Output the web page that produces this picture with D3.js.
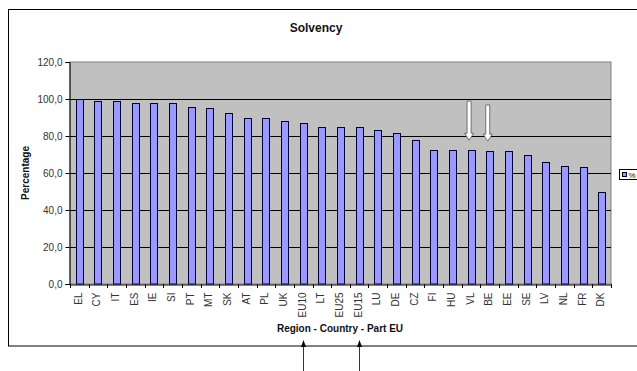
<!DOCTYPE html>
<html><head><meta charset="utf-8">
<script src="https://cdn.jsdelivr.net/npm/d3@7"></script>
<style>body{margin:0;background:#fff}svg{display:block}text{font-family:Arial,"Liberation Sans",sans-serif}</style>
</head><body><svg id="c" width="637" height="371"></svg>
<script>
const categories = ["EL","CY","IT","ES","IE","SI","PT","MT","SK","AT","PL","UK","EU10","LT","EU25","EU15","LU","DE","CZ","FI","HU","VL","BE","EE","SE","LV","NL","FR","DK"];
const values = [100,99,99,98,98,98,95.5,95,92.6,89.8,89.8,88,87,85,85,85,83,81.5,77.8,72.6,72.6,72.3,71.8,71.8,69.8,65.8,63.6,63,50];
const yTicks = [0,20,40,60,80,100,120];
const seriesName = "%";
const downArrows = ["VL","BE"];
const upArrows = ["EU10","EU15"];

const svg = d3.select("#c");
const m = {l:70, t:62, r:611, b:284};
const xb = d3.scaleBand().domain(categories).range([m.l, m.r]);
const y = d3.scaleLinear().domain([0,120]).range([m.b, m.t]);
const fmt = v => d3.format(".1f")(v).replace(".", ",");

// outer chart border
svg.append("rect").attr("x",8.5).attr("y",9.5).attr("width",640).attr("height",336.5)
  .attr("fill","#fff").attr("stroke","#000").attr("stroke-width",1);

// plot area
svg.append("rect").attr("x",m.l).attr("y",m.t).attr("width",m.r-m.l).attr("height",m.b-m.t)
  .attr("fill","#c0c0c0").attr("stroke","#808080");

// gridlines
svg.append("g").selectAll("line").data(yTicks.filter(d=>d>0 && d<120)).join("line")
  .attr("x1",m.l).attr("x2",m.r).attr("y1",d=>Math.round(y(d))+0.5).attr("y2",d=>Math.round(y(d))+0.5)
  .attr("stroke","#000").attr("stroke-width",1);

// bars
svg.append("g").selectAll("rect").data(values).join("rect")
  .attr("x",(d,i)=>Math.round(xb(categories[i])+xb.bandwidth()/2-3.5)+0.5)
  .attr("y",d=>Math.round(y(d))+0.5)
  .attr("width",7)
  .attr("height",d=>m.b-Math.round(y(d))-0.5)
  .attr("fill","#9999ff").attr("stroke","#000033").attr("stroke-width",1);

// y axis
const ya = svg.append("g").attr("transform",`translate(${m.l-0.5},0)`)
  .call(d3.axisLeft(y).tickValues(yTicks).tickFormat(fmt).tickSize(4).tickPadding(3));
ya.select(".domain").attr("stroke","#000");
ya.selectAll("line").attr("stroke","#000");
ya.selectAll("text").attr("font-size","10px").attr("fill","#333").attr("font-family","Arial,'Liberation Sans',sans-serif");

// x axis
const xa = svg.append("g").attr("transform",`translate(0,${m.b+0.5})`)
  .call(d3.axisBottom(xb).tickSize(0).tickPadding(0));
xa.select(".domain").attr("stroke","#000");
xa.selectAll(".tick text").attr("font-size","10px").attr("fill","#333")
  .attr("font-family","Arial,'Liberation Sans',sans-serif")
  .attr("transform","translate(-5,8) rotate(-90)").attr("text-anchor","end").attr("dy","0.75em").attr("x",0).attr("y",0);
svg.append("g").selectAll("line").data(categories.concat(["_end"])).join("line")
  .attr("x1",(d,i)=>Math.round(m.l+i*xb.step())+0.5).attr("x2",(d,i)=>Math.round(m.l+i*xb.step())+0.5)
  .attr("y1",m.b).attr("y2",m.b+4).attr("stroke","#000");

// titles
svg.append("text").attr("x",316).attr("y",32).attr("text-anchor","middle")
  .attr("font-size","12px").attr("font-weight","bold").attr("fill","#111").text("Solvency");
svg.append("text").attr("transform","translate(29,173) rotate(-90)").attr("text-anchor","middle")
  .attr("font-size","10px").attr("font-weight","bold").attr("fill","#111").text("Percentage");
svg.append("text").attr("x",340).attr("y",332).attr("text-anchor","middle")
  .attr("font-size","10px").attr("font-weight","bold").attr("fill","#111").text("Region - Country - Part EU");

// legend
const lg = svg.append("g");
lg.append("rect").attr("x",619.5).attr("y",169.5).attr("width",30).attr("height",10).attr("fill","#fff").attr("stroke","#000");
lg.append("rect").attr("x",622.5).attr("y",172.5).attr("width",4).attr("height",4).attr("fill","#9999ff").attr("stroke","#000033");
lg.append("text").attr("x",628.5).attr("y",177.5).attr("font-size","8px").attr("fill","#111").text(seriesName);

// white down arrows
downArrows.forEach((c,k)=>{
  const i = categories.indexOf(c);
  const cx = xb(c)+xb.bandwidth()/2 - 2;
  const top = k===0 ? 101 : 105;
  const tip = y(values[i]) - 10;
  const p = d3.path();
  p.moveTo(cx-2,top); p.lineTo(cx+2,top); p.lineTo(cx+2,tip-7); p.lineTo(cx+4.5,tip-7);
  p.lineTo(cx,tip); p.lineTo(cx-4.5,tip-7); p.lineTo(cx-2,tip-7); p.closePath();
  svg.append("path").attr("d",p.toString()).attr("fill","#fff").attr("stroke","#555").attr("stroke-width",0.8);
});

// black up arrows below chart
upArrows.forEach(c=>{
  const cx = Math.round(xb(c)+xb.bandwidth()/2 - 0.5)+0.5;
  svg.append("line").attr("x1",cx).attr("x2",cx).attr("y1",343).attr("y2",371).attr("stroke","#333").attr("stroke-width",1);
  svg.append("path").attr("d",`M${cx},340 L${cx+2.5},347 L${cx-2.5},347 Z`).attr("fill","#000");
});
</script></body></html>
